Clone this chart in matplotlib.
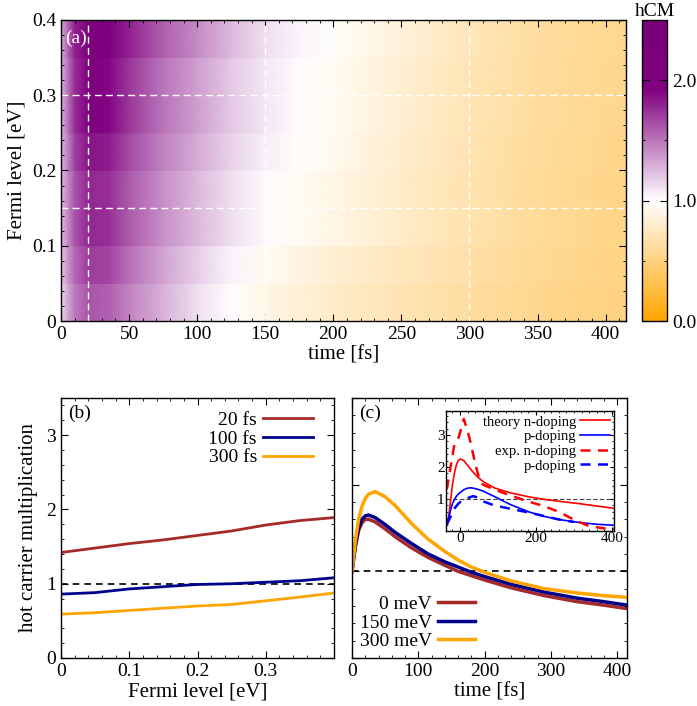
import matplotlib
matplotlib.use('Agg')
import matplotlib.pyplot as plt
import numpy as np
from matplotlib.colors import LinearSegmentedColormap
from matplotlib.ticker import MultipleLocator, FormatStrFormatter, NullFormatter

# ---------------- data ----------------
# (a) hCM map: values per Fermi-level band (bottom -> top), sampled in time
map_times = [0, 5, 10, 20, 35, 50, 75, 100, 125, 150, 175, 200, 250, 300, 350, 415]
band_edges = [0.0, 0.05, 0.10, 0.15, 0.20, 0.25, 0.30, 0.35, 0.40]
hcm_000 = [1.15, 1.32, 1.48, 1.62, 1.58, 1.45, 1.28, 1.12, 0.99, 0.90, 0.84, 0.79, 0.71, 0.63, 0.56, 0.50]
hcm_005 = [1.20, 1.38, 1.55, 1.70, 1.67, 1.52, 1.33, 1.18, 1.04, 0.95, 0.88, 0.83, 0.74, 0.66, 0.58, 0.52]
hcm_010 = [1.25, 1.42, 1.62, 1.78, 1.75, 1.60, 1.40, 1.25, 1.12, 1.02, 0.95, 0.90, 0.79, 0.69, 0.60, 0.53]
hcm_015 = [1.25, 1.42, 1.62, 1.78, 1.75, 1.60, 1.40, 1.25, 1.12, 1.02, 0.95, 0.90, 0.79, 0.69, 0.60, 0.53]
hcm_020 = [1.27, 1.45, 1.68, 1.85, 1.82, 1.66, 1.45, 1.30, 1.16, 1.06, 0.98, 0.93, 0.81, 0.70, 0.61, 0.54]
hcm_025 = [1.28, 1.50, 1.75, 1.95, 1.90, 1.72, 1.50, 1.35, 1.20, 1.09, 1.01, 0.95, 0.83, 0.71, 0.62, 0.55]
hcm_030 = [1.28, 1.50, 1.75, 1.95, 1.90, 1.72, 1.50, 1.35, 1.20, 1.09, 1.01, 0.95, 0.83, 0.71, 0.62, 0.55]
hcm_035 = [1.30, 1.55, 1.80, 2.05, 2.00, 1.80, 1.58, 1.42, 1.25, 1.12, 1.04, 0.98, 0.85, 0.73, 0.63, 0.56]
map_rows = [hcm_000, hcm_005, hcm_010, hcm_015, hcm_020, hcm_025, hcm_030, hcm_035]

# (b) hCM vs Fermi level at fixed times
fermi = [0.0, 0.05, 0.10, 0.15, 0.20, 0.25, 0.30, 0.35, 0.40]
hcm_20fs = [1.42, 1.48, 1.54, 1.59, 1.65, 1.71, 1.79, 1.85, 1.89]
hcm_100fs = [0.86, 0.88, 0.93, 0.96, 0.99, 1.00, 1.02, 1.04, 1.08]
hcm_300fs = [0.59, 0.61, 0.64, 0.67, 0.70, 0.72, 0.77, 0.82, 0.875]

# (c) hCM vs time at fixed Fermi level
t_c = [0, 5, 10, 15, 20, 25, 35, 50, 65, 90, 115, 140, 160, 180, 200, 240, 290, 340, 380, 415]
hcm_0mev = [1.0, 1.28, 1.47, 1.56, 1.60, 1.60, 1.57, 1.49, 1.40, 1.27, 1.16, 1.07, 1.00, 0.95, 0.90, 0.81, 0.72, 0.65, 0.61, 0.57]
hcm_150mev = [1.0, 1.30, 1.50, 1.60, 1.64, 1.65, 1.62, 1.54, 1.45, 1.32, 1.20, 1.11, 1.05, 0.99, 0.94, 0.85, 0.76, 0.69, 0.65, 0.61]
hcm_300mev = [1.0, 1.35, 1.60, 1.75, 1.84, 1.89, 1.92, 1.86, 1.76, 1.55, 1.37, 1.23, 1.13, 1.05, 0.99, 0.89, 0.80, 0.75, 0.72, 0.70]

# (c) inset: theory vs experiment
t_th = [-35, -30, -25, -20, -15, -10, -5, 0, 10, 20, 30, 45, 60, 90, 130, 180, 220, 260, 310, 360, 405]
th_n = [0.18, 0.45, 0.95, 1.45, 1.80, 2.05, 2.20, 2.25, 2.20, 2.05, 1.90, 1.70, 1.55, 1.35, 1.20, 1.07, 0.99, 0.93, 0.86, 0.78, 0.71]
th_p = [0.25, 0.40, 0.65, 0.85, 0.98, 1.08, 1.15, 1.20, 1.29, 1.34, 1.35, 1.31, 1.25, 1.08, 0.84, 0.60, 0.46, 0.36, 0.27, 0.21, 0.18]
t_exp_n = [-35, -25, -15, -3, 10, 25, 40, 50, 60, 90, 130, 180, 220, 260, 300, 340, 380, 405]
exp_n = [1.30, 2.00, 2.70, 2.95, 3.50, 2.90, 2.10, 1.65, 1.45, 1.30, 1.12, 0.92, 0.78, 0.60, 0.35, 0.15, 0.08, 0.06]
t_exp_p = [-35, -25, -15, -5, 5, 15, 25, 35, 45, 60, 90, 130, 180, 220, 260, 300]
exp_p = [0.20, 0.45, 0.70, 0.85, 0.95, 1.00, 1.05, 1.09, 1.05, 0.93, 0.80, 0.70, 0.58, 0.47, 0.36, 0.28]

# ---------------- style ----------------
plt.rcParams['font.family'] = ['Liberation Serif', 'DejaVu Serif']
plt.rcParams['font.size'] = 14
plt.rcParams['xtick.direction'] = 'in'
plt.rcParams['ytick.direction'] = 'in'
plt.rcParams['xtick.top'] = True
plt.rcParams['ytick.right'] = True
plt.rcParams['xtick.major.size'] = 5
plt.rcParams['ytick.major.size'] = 5
plt.rcParams['xtick.minor.size'] = 2.5
plt.rcParams['ytick.minor.size'] = 2.5
plt.rcParams['xtick.minor.visible'] = True
plt.rcParams['ytick.minor.visible'] = True
plt.rcParams['axes.linewidth'] = 1.0

c_brown = '#A52A2A'
c_navy = '#00008B'
c_orange = '#FFA500'

W, H = 697, 706
fig = plt.figure(figsize=(W / 100, H / 100), dpi=100)

def box(l, t, r, b):
    return [l / W, 1 - b / H, (r - l) / W, (b - t) / H]

# ---------------- (a) ----------------
cmap = LinearSegmentedColormap.from_list(
    'hcm', [(0.0, '#FFA500'), (0.4, '#FFFFFF'), (0.77, '#800080'), (1.0, '#780078')])

ax_a = fig.add_axes(box(61, 20, 626, 321))
for i, row in enumerate(map_rows):
    X, Y = np.meshgrid(map_times, [band_edges[i], band_edges[i + 1]])
    C = np.vstack([row, row])
    mesh = ax_a.pcolormesh(X, Y, C, cmap=cmap, vmin=0, vmax=2.5, shading='gouraud')

for tv in [20, 150, 300]:
    ax_a.axvline(tv, color='white', ls=(0, (5, 3)), lw=1)
for ev in [0.3, 0.15]:
    ax_a.axhline(ev, color='white', ls=(0, (5, 3)), lw=1)

ax_a.set_xlim(0, 415)
ax_a.set_ylim(0, 0.4)
ax_a.xaxis.set_major_locator(MultipleLocator(50))
ax_a.xaxis.set_minor_locator(MultipleLocator(10))
ax_a.yaxis.set_major_locator(MultipleLocator(0.1))
ax_a.yaxis.set_minor_locator(MultipleLocator(0.02))
ax_a.yaxis.set_major_formatter(FormatStrFormatter('%g'))
ax_a.set_xlabel('time [fs]', fontsize=15, labelpad=2)
ax_a.set_ylabel('Fermi level [eV]', fontsize=15, labelpad=4)
ax_a.text(0.008, 0.94, '(a)', transform=ax_a.transAxes, color='white',
          ha='left', va='center', fontsize=14)

cax = fig.add_axes(box(642, 20, 667, 321))
cb = fig.colorbar(mesh, cax=cax, ticks=[0, 1, 2])
cb.ax.yaxis.set_major_formatter(FormatStrFormatter('%.1f'))
cb.ax.yaxis.set_minor_locator(MultipleLocator(0.5))
cb.ax.tick_params(which='both', direction='in', left=True, right=True)
cb.outline.set_linewidth(1.0)
cax.set_title('hCM', fontsize=14, pad=1)

# ---------------- (b) ----------------
ax_b = fig.add_axes(box(61, 398, 334, 658))
ax_b.axhline(1, color='black', ls=(0, (4, 3)), lw=1.2)
ax_b.plot(fermi, hcm_20fs, color=c_brown, lw=2, label='20 fs')
ax_b.plot(fermi, hcm_100fs, color=c_navy, lw=2, label='100 fs')
ax_b.plot(fermi, hcm_300fs, color=c_orange, lw=2, label='300 fs')
ax_b.set_xlim(0, 0.4)
ax_b.set_ylim(0, 3.5)
ax_b.set_xticks([0, 0.1, 0.2, 0.3])
ax_b.xaxis.set_minor_locator(MultipleLocator(0.02))
ax_b.xaxis.set_major_formatter(FormatStrFormatter('%g'))
ax_b.yaxis.set_major_locator(MultipleLocator(1))
ax_b.yaxis.set_minor_locator(MultipleLocator(0.2))
ax_b.set_xlabel('Fermi level [eV]', fontsize=15, labelpad=2)
ax_b.set_ylabel('hot carrier multiplication', fontsize=15, labelpad=6)
ax_b.text(0.025, 0.942, '(b)', transform=ax_b.transAxes, ha='left', va='center')
ax_b.legend(loc='upper right', bbox_to_anchor=(0.96, 0.985), frameon=False,
            markerfirst=False, fontsize=14, handlelength=2.6, labelspacing=0.05,
            handletextpad=0.3, borderaxespad=0.3, borderpad=0.2)

# ---------------- (c) ----------------
ax_c = fig.add_axes(box(352, 398, 627, 658))
ax_c.axhline(1, color='black', ls=(0, (4, 3)), lw=1.2)
ax_c.plot(t_c, hcm_0mev, color=c_brown, lw=2.5, label='0 meV')
ax_c.plot(t_c, hcm_150mev, color=c_navy, lw=2.5, label='150 meV')
ax_c.plot(t_c, hcm_300mev, color=c_orange, lw=2.5, label='300 meV')
ax_c.set_xlim(0, 415)
ax_c.set_ylim(0, 3)
ax_c.xaxis.set_major_locator(MultipleLocator(100))
ax_c.xaxis.set_minor_locator(MultipleLocator(20))
ax_c.yaxis.set_major_locator(MultipleLocator(1))
ax_c.yaxis.set_minor_locator(MultipleLocator(0.2))
ax_c.yaxis.set_major_formatter(NullFormatter())
ax_c.set_xlabel('time [fs]', fontsize=15, labelpad=2)
ax_c.text(0.025, 0.942, '(c)', transform=ax_c.transAxes, ha='left', va='center')
ax_c.legend(loc='lower left', frameon=False, markerfirst=False, fontsize=14,
            handlelength=1.9, labelspacing=0.05, handletextpad=0.3,
            borderaxespad=0.2, borderpad=0.2)

# inset
ax_i = fig.add_axes(box(446, 411, 614, 531))
ax_i.axhline(1, color='#444444', ls=(0, (4, 2)), lw=0.8)
ax_i.plot(t_th, th_n, color='red', lw=1.2, label='theory n-doping')
ax_i.plot(t_th, th_p, color='blue', lw=1.2, label='p-doping')
ax_i.plot(t_exp_n, exp_n, color='red', lw=1.8, ls=(0, (4, 3)), label='exp. n-doping')
ax_i.plot(t_exp_p, exp_p, color='blue', lw=1.8, ls=(0, (4, 3)), label='p-doping')
ax_i.set_xlim(-37, 405)
ax_i.set_ylim(0, 3.75)
ax_i.xaxis.set_major_locator(MultipleLocator(200))
ax_i.xaxis.set_minor_locator(MultipleLocator(20))
ax_i.yaxis.set_major_locator(MultipleLocator(1))
ax_i.yaxis.set_minor_locator(MultipleLocator(0.2))
ax_i.set_yticks([1, 2, 3])
ax_i.tick_params(which='major', labelsize=11, length=3, pad=1)
ax_i.tick_params(which='minor', length=1.5)
ax_i.legend(loc='upper right', frameon=False, markerfirst=False, fontsize=10.5,
            handlelength=2.0, labelspacing=0.1, handletextpad=0.3,
            borderaxespad=0.2, borderpad=0.1)

plt.savefig('out.png', dpi=100)
plt.close(fig)
